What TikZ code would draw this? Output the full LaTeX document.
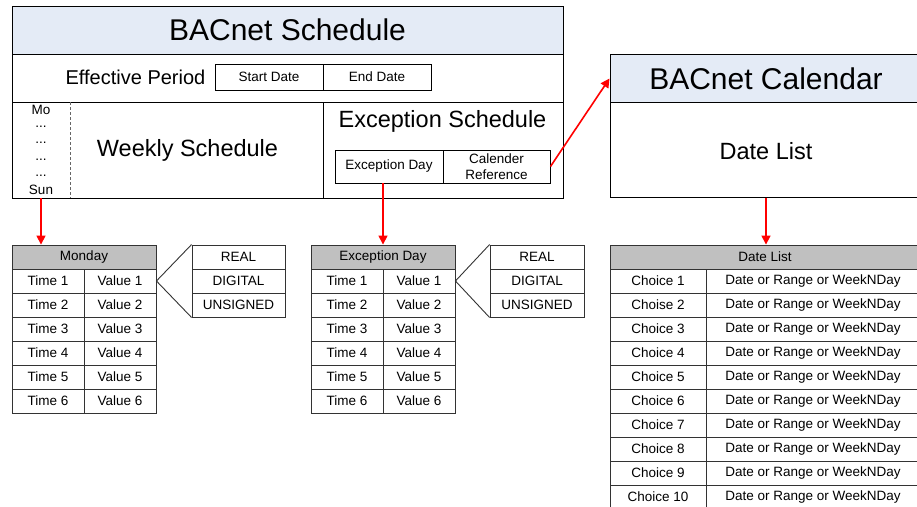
\documentclass[tikz,border=0pt]{standalone}
\usepackage{fontspec}
\setmainfont{Liberation Sans}
\usetikzlibrary{arrows.meta,calc}
\definecolor{hdrblue}{HTML}{E4EBF6}
\definecolor{hdrgrey}{HTML}{C0C0C0}
\newcommand{\myfs}[1]{\fontsize{#1}{#1}\selectfont}
\begin{document}
\begin{tikzpicture}[x=1pt,y=-1pt,
  frame/.style={draw=black, line width=1pt, rectangle, inner sep=0pt},
  cell/.style={draw=black!80, line width=0.9pt, rectangle, inner sep=0pt, minimum height=24pt, font=\myfs{13.5}},
  hcell/.style={cell, fill=hdrgrey},
  plain/.style={inner sep=0pt},
  small/.style={plain, font=\myfs{13.5}},
  link/.style={draw=red, line width=1.6pt, -{Triangle[length=9pt,width=9pt]}},
]
\useasboundingbox (0,0) rectangle (917,506);
\clip (0,0) rectangle (917,506);
\fill[white] (0,0) rectangle (917,506);

% ---------- BACnet Schedule ----------
\node[frame, minimum width=551pt, minimum height=192pt] (sched) at (287.5,102) {};
\node[frame, fill=hdrblue, minimum width=551pt, minimum height=48pt, font=\myfs{30}] (schedh) at (287.5,30) {BACnet Schedule};
\node[plain, font=\myfs{20}] (eff) at (135.5,77.5) {Effective Period};
\node[frame, line width=0.9pt, minimum width=108pt, minimum height=26pt, font=\myfs{13.5}] (start) at (269,77) {Start Date};
\node[frame, line width=0.9pt, minimum width=108pt, minimum height=26pt, font=\myfs{13.5}] (endd) at (377,77) {End Date};
\draw[line width=1pt] (12,102) -- (563,102);
\draw[line width=1pt] (323,102) -- (323,198);
\draw[black!60, line width=0.8pt, densely dashed] (70,102) -- (70,198);

\node[plain, minimum width=58pt, minimum height=96pt] (days) at (41,150) {};
\node[small] (mo) at (41,110) {Mo};
\node[small] (d1) at (41,127) {...};
\node[small] (d2) at (41,143) {...};
\node[small] (d3) at (41,160) {...};
\node[small] (d4) at (41,176) {...};
\node[small] (sun) at (41,190) {Sun};
\node[plain, font=\myfs{23.5}] (weekly) at (187.5,150.5) {Weekly Schedule};

\node[plain, font=\myfs{23.5}] (excs) at (442.5,121.5) {Exception Schedule};
\node[frame, line width=0.9pt, minimum width=108pt, minimum height=33pt, font=\myfs{13.5}] (exd) at (389,166.5) {Exception Day};
\node[frame, line width=0.9pt, minimum width=107pt, minimum height=33pt, align=center, font=\fontsize{13.5}{16.5}\selectfont] (calref) at (496.5,166.5) {Calender\\Reference};

% ---------- BACnet Calendar (runs past the right edge) ----------
\node[frame, minimum width=320pt, minimum height=143pt] (cal) at (770,125.5) {};
\node[frame, fill=hdrblue, minimum width=320pt, minimum height=48pt, font=\myfs{30}] (calh) at (770,78.5) {\hspace*{-8pt}BACnet Calendar};
\node[plain, font=\myfs{23.5}] (dlt) at (766,151) {Date List};

% ---------- Monday table ----------
\node[hcell, minimum width=144pt] (monh) at (84,257) {Monday};
\foreach \i in {1,...,6} {
  \node[cell, minimum width=72pt] (mont\i) at (48,{257+24*\i}) {Time \i};
  \node[cell, minimum width=72pt] (monv\i) at (120,{257+24*\i}) {Value \i};
}
\foreach \t [count=\j] in {REAL,DIGITAL,UNSIGNED}
  \node[cell, minimum width=93pt] (mty\j) at (238.5,{233+24*\j}) {\t};
\draw[line width=0.9pt, black!80] (mty1.north west) -- (monv1.east) -- (mty3.south west);

% ---------- Exception Day table ----------
\node[hcell, minimum width=144pt] (exh) at (383,257) {Exception Day};
\foreach \i in {1,...,6} {
  \node[cell, minimum width=72pt] (ext\i) at (347,{257+24*\i}) {Time \i};
  \node[cell, minimum width=72pt] (exv\i) at (419,{257+24*\i}) {Value \i};
}
\foreach \t [count=\j] in {REAL,DIGITAL,UNSIGNED}
  \node[cell, minimum width=94pt] (ety\j) at (537,{233+24*\j}) {\t};
\draw[line width=0.9pt, black!80] (ety1.north west) -- (exv1.east) -- (ety3.south west);

% ---------- Date List table (runs past the right edge) ----------
\node[hcell, minimum width=320pt] (dlh) at (770,257) {\hspace*{-10pt}Date List};
\foreach \c [count=\i] in {Choice 1,Choise 2,Choice 3,Choice 4,Choice 5,Choice 6,Choice 7,Choice 8,Choice 9,Choice 10} {
  \node[cell, minimum width=96pt] (dc\i) at (658,{257+24*\i}) {\c};
  \node[cell, minimum width=224pt] (dd\i) at (818,{257+24*\i}) {\hspace*{-10pt}Date or Range or WeekNDay};
}

% ---------- links ----------
\draw[link] (days.south) -- (days.south |- monh.north);
\draw[link] (exd.south -| exh.north) -- (exh.north);
\draw[link] (cal.south -| dlt.south) -- (dlt.south |- dlh.north);
\draw[link] (calref.east) -- (calh.west);
\end{tikzpicture}
\end{document}
